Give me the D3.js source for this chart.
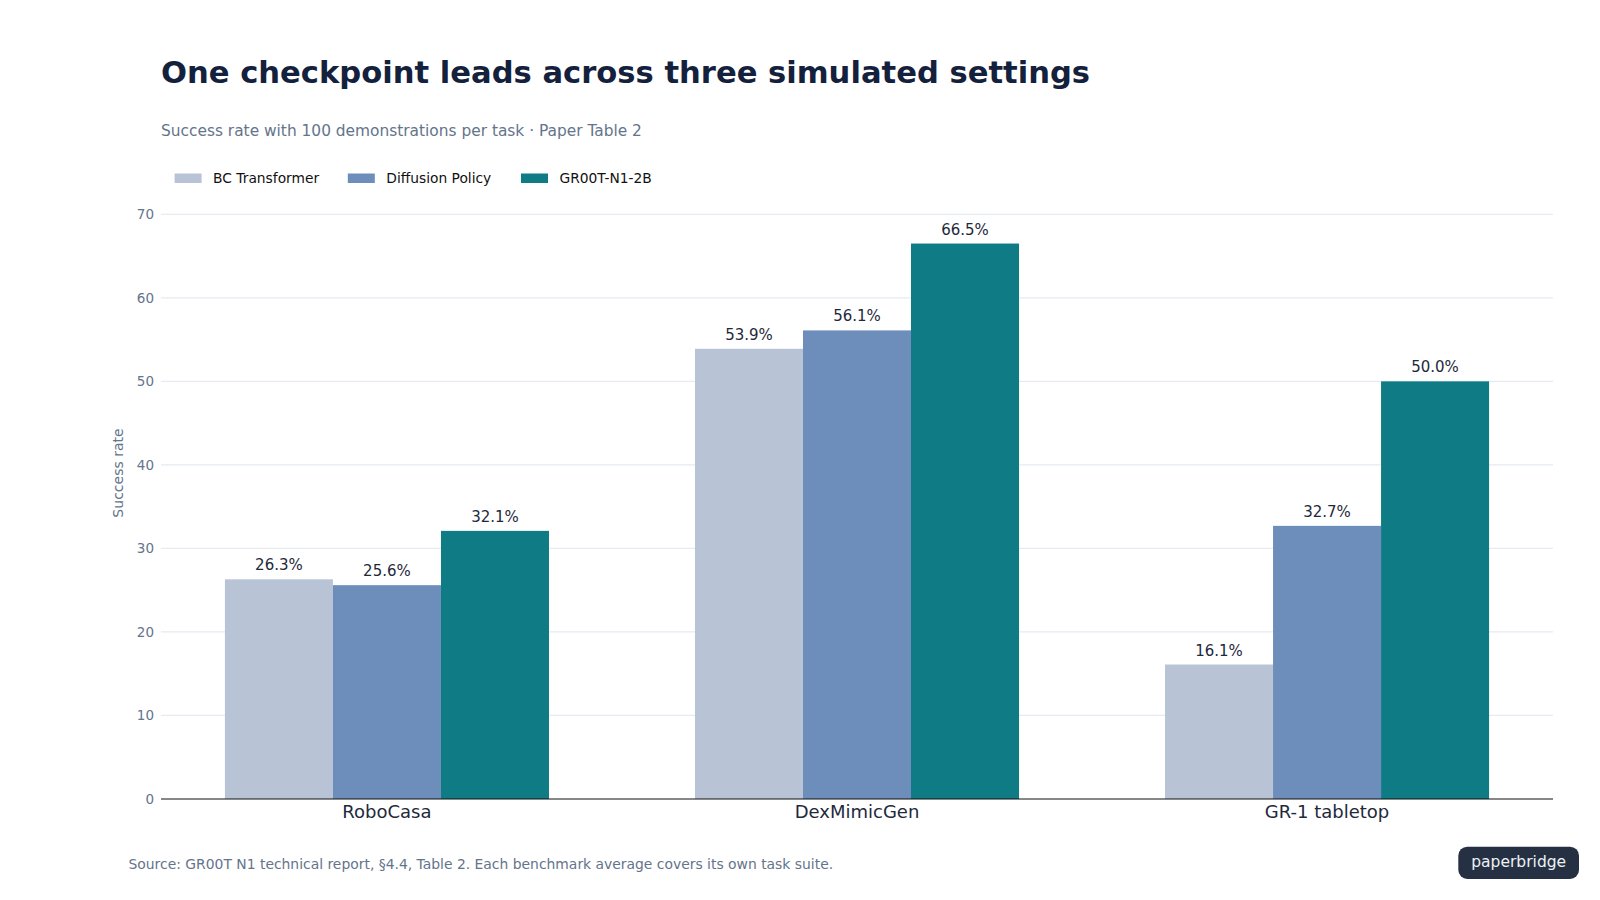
<!DOCTYPE html>
<html>
<head>
<meta charset="utf-8">
<script src="https://cdn.jsdelivr.net/npm/d3@7"></script>
<style>
  html, body { margin: 0; padding: 0; background: #ffffff; }
  svg { display: block; font-family: "DejaVu Sans", sans-serif; }
</style>
</head>
<body>
<svg id="chart" width="1600" height="900"></svg>
<script>
const categories = ["RoboCasa", "DexMimicGen", "GR-1 tabletop"];
const seriesNames = ["BC Transformer", "Diffusion Policy", "GR00T-N1-2B"];
const bcTransformer = [26.3, 53.9, 16.1];
const diffusionPolicy = [25.6, 56.1, 32.7];
const groot = [32.1, 66.5, 50.0];
const yTicks = [0, 10, 20, 30, 40, 50, 60, 70];
const colors = ["#b8c4d6", "#6d8dbb", "#0f7b85"];

const seriesValues = [bcTransformer, diffusionPolicy, groot];
const rows = categories.map((c, i) => ({
  category: c,
  values: seriesNames.map((s, j) => ({ series: s, value: seriesValues[j][i], idx: j }))
}));

const svg = d3.select("#chart");
const plotLeft = 161, plotRight = 1553, plotTop = 214.3, plotBottom = 799;

const x0 = d3.scaleBand().domain(categories).range([plotLeft, plotRight])
  .paddingInner(0.3106).paddingOuter(0.136);
const x1 = d3.scaleBand().domain(seriesNames).range([0, x0.bandwidth()]).padding(0);
const y = d3.scaleLinear().domain([0, 70]).range([plotBottom, plotTop]);

// Title & subtitle
svg.append("text").attr("x", 161).attr("y", 83)
  .attr("font-size", 30.6).attr("font-weight", "bold").attr("fill", "#14213d")
  .text("One checkpoint leads across three simulated settings");
svg.append("text").attr("x", 161).attr("y", 136)
  .attr("font-size", 15.4).attr("fill", "#64748b")
  .text("Success rate with 100 demonstrations per task · Paper Table 2");

// Legend
const legend = svg.append("g");
seriesNames.forEach((s, i) => {
  const gx = 174.6 + i * 173.2;
  legend.append("rect").attr("x", gx).attr("y", 173.5).attr("width", 27).attr("height", 9.5)
    .attr("fill", colors[i]);
  legend.append("text").attr("x", gx + 38.5).attr("y", 182.6)
    .attr("font-size", 13.8).attr("fill", "#111111").text(s);
});

// Gridlines
svg.append("g").selectAll("line").data(yTicks.filter(d => d > 0)).join("line")
  .attr("x1", plotLeft).attr("x2", plotRight)
  .attr("y1", d => y(d)).attr("y2", d => y(d))
  .attr("stroke", "#e6ebf2").attr("stroke-width", 1.2);

// Y axis
const yAxis = svg.append("g").attr("transform", `translate(${plotLeft},0)`)
  .call(d3.axisLeft(y).tickValues(yTicks).tickSize(0).tickPadding(7));
yAxis.select(".domain").remove();
yAxis.selectAll("text").attr("font-size", 13.5).attr("fill", "#64748b")
  .attr("font-family", "DejaVu Sans, sans-serif");

svg.append("text")
  .attr("transform", "translate(118,473) rotate(-90)")
  .attr("text-anchor", "middle").attr("dominant-baseline", "central")
  .attr("font-size", 14).attr("fill", "#64748b")
  .text("Success rate");

// Bars
const groups = svg.append("g").selectAll("g").data(rows).join("g")
  .attr("transform", d => `translate(${x0(d.category)},0)`);
groups.selectAll("rect").data(d => d.values).join("rect")
  .attr("x", d => x1(d.series))
  .attr("y", d => y(d.value))
  .attr("width", x1.bandwidth())
  .attr("height", d => y(0) - y(d.value))
  .attr("fill", d => colors[d.idx]);
groups.selectAll("text").data(d => d.values).join("text")
  .attr("x", d => x1(d.series) + x1.bandwidth() / 2)
  .attr("y", d => y(d.value) - 9)
  .attr("text-anchor", "middle")
  .attr("font-size", 15).attr("fill", "#1e293b")
  .text(d => d.value.toFixed(1) + "%");

// X axis
const xAxis = svg.append("g").attr("transform", `translate(0,${plotBottom})`)
  .call(d3.axisBottom(x0).tickSize(0).tickPadding(6).tickSizeOuter(0));
xAxis.select(".domain").attr("stroke", "#111111").attr("stroke-width", 1.2)
  .attr("d", `M${plotLeft},0H${plotRight}`);
xAxis.selectAll("text").attr("font-size", 18).attr("fill", "#1e293b")
  .attr("font-family", "DejaVu Sans, sans-serif")
  .attr("dy", null).attr("y", 19);

// Footer
svg.append("text").attr("x", 128.5).attr("y", 869)
  .attr("font-size", 13.9).attr("fill", "#64748b")
  .text("Source: GR00T N1 technical report, §4.4, Table 2. Each benchmark average covers its own task suite.");

// Badge
svg.append("rect").attr("x", 1458.3).attr("y", 846.7).attr("width", 120.7).attr("height", 32.3)
  .attr("rx", 9).attr("fill", "#253143");
svg.append("text").attr("x", 1518.7).attr("y", 866.7).attr("text-anchor", "middle")
  .attr("font-size", 15.5).attr("fill", "#eef1f5").text("paperbridge");
</script>
</body>
</html>
